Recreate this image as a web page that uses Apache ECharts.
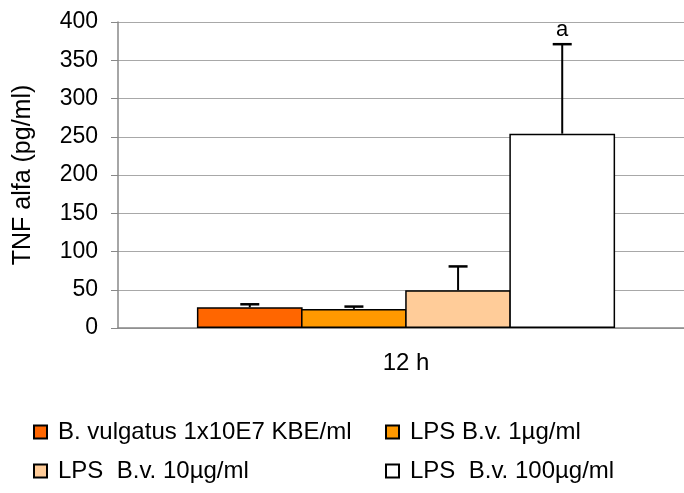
<!DOCTYPE html>
<html><head><meta charset="utf-8">
<script src="https://cdn.jsdelivr.net/npm/echarts@6/dist/echarts.min.js"></script>
<style>html,body{margin:0;padding:0;background:#fff}#c{width:684px;height:493px}</style>
</head><body><div id="c"></div>
<script>
const categories = ['12 h'];
const seriesNames = ['B. vulgatus 1x10E7 KBE/ml', 'LPS B.v. 1µg/ml', 'LPS  B.v. 10µg/ml', 'LPS  B.v. 100µg/ml'];
const means = [27, 25, 49.5, 254];
const errors = [4, 3, 31, 117];
const sigLabels = ['', '', '', 'a'];
const yTicks = [0, 400, 50];
const colors = ['#FF6600', '#FF9900', '#FFCC99', '#FFFFFF'];

const FONT = 'Liberation Sans, Arial, sans-serif';
const CAT_GAP = 0.274;
const BAR_GAP = -0.015;

const chart = echarts.init(document.getElementById('c'), null, {renderer: 'canvas'});

const barSeries = seriesNames.map((n, i) => ({
  name: n, type: 'bar', data: [means[i]], barGap: (BAR_GAP * 100) + '%', barCategoryGap: (CAT_GAP * 100) + '%',
  itemStyle: {color: colors[i], borderColor: '#000', borderWidth: 1.5},
  silent: true
}));

const errSeries = {
  type: 'custom', silent: true, z: 5,
  data: means.map((m, i) => [0, m, m + errors[i], i]),
  renderItem: function (params, api) {
    const band = api.size([1, 0])[0];
    const n = means.length;
    const bw = band * (1 - CAT_GAP) / (n + (n - 1) * BAR_GAP);
    const step = bw * (1 + BAR_GAP);
    const total = bw * n + bw * BAR_GAP * (n - 1);
    const c = api.coord([api.value(0), api.value(1)]);
    const t = api.coord([api.value(0), api.value(2)]);
    const idx = api.value(3);
    const x = c[0] - total / 2 + step * idx + bw / 2;
    const cap = 9.5;
    const children = [
      {type: 'line', shape: {x1: x, y1: c[1], x2: x, y2: t[1]}, style: {stroke: '#000', lineWidth: 2}},
      {type: 'line', shape: {x1: x - cap, y1: t[1], x2: x + cap, y2: t[1]}, style: {stroke: '#000', lineWidth: 2.5}}
    ];
    const lab = sigLabels[idx];
    if (lab) {
      children.push({type: 'text', style: {text: lab, x: x, y: t[1] - 3, textAlign: 'center', textVerticalAlign: 'bottom', font: '22px ' + FONT, fill: '#000'}});
    }
    return {type: 'group', children: children};
  }
};

const legendText = {fontSize: 24, lineHeight: 24, color: '#000', fontFamily: FONT, padding: [0, 0, 0, 6]};

chart.setOption({
  animation: false,
  backgroundColor: '#fff',
  textStyle: {fontFamily: FONT},
  grid: {left: 118, width: 576, top: 22, bottom: 165, outerBoundsMode: 'none', containLabel: false},
  legend: [
    {data: [seriesNames[0], seriesNames[2]], orient: 'vertical', left: 33, top: 420, itemGap: 15, padding: 0,
     icon: 'rect', itemWidth: 13, itemHeight: 13, textStyle: legendText},
    {data: [seriesNames[1], seriesNames[3]], orient: 'vertical', left: 385, top: 420, itemGap: 15, padding: 0,
     icon: 'rect', itemWidth: 13, itemHeight: 13, textStyle: legendText}
  ],
  xAxis: {
    type: 'category', data: categories,
    axisLine: {lineStyle: {color: '#888', width: 1.5}},
    axisTick: {show: false},
    axisLabel: {color: '#000', fontSize: 24, margin: 23, fontFamily: FONT}
  },
  yAxis: {
    type: 'value', min: yTicks[0], max: yTicks[1], interval: yTicks[2],
    name: 'TNF alfa (pg/ml)', nameLocation: 'middle', nameGap: 82, nameRotate: 90,
    nameTextStyle: {fontSize: 25, color: '#000', fontFamily: FONT},
    axisLine: {show: true, lineStyle: {color: '#888', width: 1.5}},
    axisTick: {show: true, length: 7, lineStyle: {color: '#888'}},
    axisLabel: {color: '#000', fontSize: 23, margin: 20, fontFamily: FONT},
    splitLine: {lineStyle: {color: '#a8a8a8', width: 1.2}}
  },
  series: barSeries.concat([errSeries])
});
</script>
</body></html>
